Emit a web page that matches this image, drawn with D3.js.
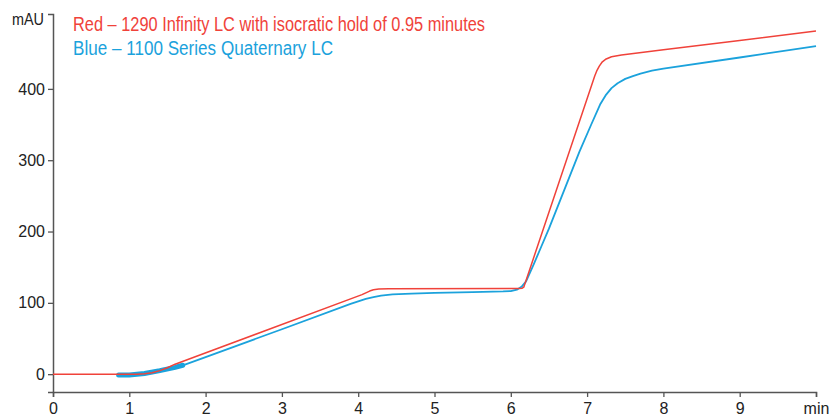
<!DOCTYPE html>
<html lang="en">
<head>
    <title>Chromatogram: isocratic hold comparison</title>
    <meta charset="utf-8">
    <script src="https://cdn.jsdelivr.net/npm/d3@7" type="text/javascript"></script>
    <style>
        body { margin: 0; background: #fff; }
        svg text { font-family: "Liberation Sans Narrow", "Liberation Sans", "DejaVu Sans", sans-serif; font-stretch: condensed; }
    </style>
</head>
<body>
<div id='chart'><svg></svg></div>

<script>
// red trace: 1290 Infinity LC, isocratic hold 0.95 min
var redTime  = [0, 1.1, 1.2, 1.3, 1.4, 1.5, 1.6, 4.05, 4.1, 4.15, 4.2, 4.27, 4.4, 6.1, 6.15, 6.17, 7.1, 7.13, 7.16, 7.2, 7.25, 7.32, 7.45, 8, 9, 10];
var redValue = [0, 0, 0.5, 2, 5, 9, 14, 111.5, 114, 116.5, 118.3, 119.3, 119.6, 120, 120.5, 122, 418, 426, 432, 438, 442, 445, 447.5, 455, 468, 481];

// blue trace: 1100 Series Quaternary LC
var blueTime  = [0.85, 1.0, 1.2, 1.4, 1.6, 1.72, 2, 3, 3.9, 4.0, 4.1, 4.2, 4.3, 4.45, 4.7, 5, 5.5, 5.9, 6.0, 6.08, 6.14, 6.2, 6.3, 6.4, 6.5, 6.7, 6.9, 7.05, 7.17, 7.25, 7.32, 7.4, 7.5, 7.6, 7.7, 7.85, 8, 9, 10];
var blueValue = [-1, -1, 1, 5, 10, 13, 24, 63, 98.5, 102, 105.5, 108, 110, 111.8, 113, 114, 115, 116, 116.5, 118.5, 122.5, 130, 154, 179, 204, 258, 312, 349, 378, 392, 401, 408, 414, 418, 421.5, 425.5, 428.5, 444, 460];

// noisy start of the blue trace (drawn as thick band)
var blueNoiseTime  = [0.86, 1.0, 1.2, 1.4, 1.6, 1.7];
var blueNoiseValue = [-1, -1, 1, 5, 9.5, 12.5];

var xTicks = [0, 1, 2, 3, 4, 5, 6, 7, 8, 9, 10];
var xTickLabels = ['0', '1', '2', '3', '4', '5', '6', '7', '8', '9', 'min'];
var yTicks = [0, 100, 200, 300, 400];

var legendLabels = ['Red \u2013 1290 Infinity LC with isocratic hold of 0.95 minutes',
                    'Blue \u2013 1100 Series Quaternary LC'];
var legendWidths = [412, 260];

var red = '#f0423a';
var blue = '#1ba2dc';

var width = 830, height = 417;
var svg = d3.select('#chart svg').attr('width', width).attr('height', height);

var x = d3.scaleLinear().domain([0, 10]).range([53, 816]);
var y = d3.scaleLinear().domain([-25, 505]).range([392, 14]);

function pts(t, v) {
    return t.map(function(d, i) { return [d, v[i]]; });
}

var line = d3.line()
    .x(function(d) { return x(d[0]); })
    .y(function(d) { return y(d[1]); });

// axes
var xAxis = d3.axisBottom(x)
    .tickValues(xTicks)
    .tickFormat(function(d, i) { return xTickLabels[i]; })
    .tickSizeOuter(0)
    .tickSize(5)
    .tickPadding(3);

var yAxis = d3.axisLeft(y)
    .tickValues(yTicks)
    .tickSizeOuter(0)
    .tickSize(5)
    .tickPadding(3);

var gx = svg.append('g').attr('transform', 'translate(0,392)').call(xAxis);
var gy = svg.append('g').attr('transform', 'translate(53,0)').call(yAxis);

[gx, gy].forEach(function(g) {
    g.select('.domain').attr('stroke', '#555').attr('stroke-width', 1.5);
    g.selectAll('.tick line').attr('stroke', '#555').attr('stroke-width', 1.3);
    g.selectAll('.tick text').attr('fill', '#222').style('font-size', '16px');
});
gx.selectAll('.tick text').attr('dy', '0.88em');

svg.append('text')
    .attr('x', 44).attr('y', 25)
    .attr('text-anchor', 'end')
    .attr('fill', '#222')
    .attr('textLength', 32)
    .attr('lengthAdjust', 'spacingAndGlyphs')
    .style('font-size', '16px')
    .text('mAU');

// traces
svg.append('path')
    .datum(pts(blueNoiseTime, blueNoiseValue))
    .attr('d', line)
    .attr('fill', 'none')
    .attr('stroke', blue)
    .attr('stroke-width', 5)
    .attr('stroke-linecap', 'round');

svg.append('path')
    .datum(pts(blueTime, blueValue))
    .attr('d', line)
    .attr('fill', 'none')
    .attr('stroke', blue)
    .attr('stroke-width', 1.8)
    .attr('stroke-linejoin', 'round');

svg.append('path')
    .datum(pts(redTime, redValue))
    .attr('d', line)
    .attr('fill', 'none')
    .attr('stroke', red)
    .attr('stroke-width', 1.5)
    .attr('stroke-linejoin', 'round');

// legend
svg.selectAll('.legend')
    .data(legendLabels)
    .enter().append('text')
    .attr('class', 'legend')
    .attr('x', 73)
    .attr('y', function(d, i) { return 31 + i * 24; })
    .attr('fill', function(d, i) { return i == 0 ? red : blue; })
    .attr('textLength', function(d, i) { return legendWidths[i]; })
    .attr('lengthAdjust', 'spacingAndGlyphs')
    .style('font-size', '19.5px')
    .text(function(d) { return d; });
</script>
</body>
</html>
